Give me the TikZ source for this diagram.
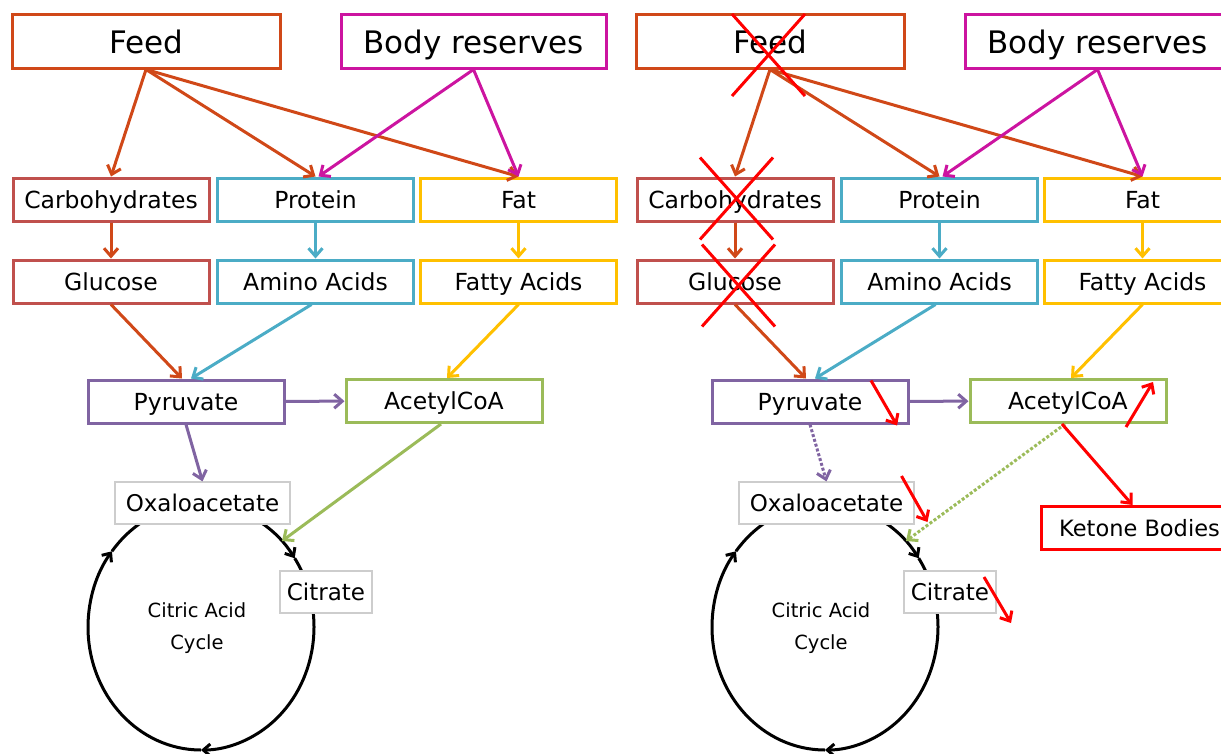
\documentclass[tikz,border=0pt]{standalone}
\usepackage{fontspec}
\setmainfont{DejaVu Sans}
\usetikzlibrary{arrows.meta}
\definecolor{feedc}{RGB}{208,72,24}
\definecolor{bodyc}{RGB}{204,20,160}
\definecolor{carbc}{RGB}{192,80,77}
\definecolor{protc}{RGB}{75,172,198}
\definecolor{fatc}{RGB}{255,192,0}
\definecolor{pyrc}{RGB}{128,100,162}
\definecolor{acetc}{RGB}{155,187,89}
\definecolor{boxgray}{RGB}{205,205,205}
\tikzset{>={Straight Barb[length=8pt,width=14pt]}}

\begin{document}
\begin{tikzpicture}[x=1pt, y=1pt,
  box/.style={draw, line width=3pt, fill=white, inner sep=0pt, minimum width=196pt, minimum height=43pt, text height=21pt, text depth=4pt, font=\fontsize{23.5}{27}\selectfont},
  topbox/.style={box, minimum width=268pt, minimum height=54pt, text height=29pt, text depth=4pt, font=\fontsize{31}{35}\selectfont},
  thinbox/.style={draw=boxgray, line width=1.2pt, fill=white, inner sep=0pt, minimum height=42pt, text height=21pt, text depth=4pt, font=\fontsize{23}{27}\selectfont},
  link/.style={->, line width=3pt},
  cycarrow/.style={-{Straight Barb[length=7pt,width=12pt]}, line width=3pt},
  trend/.style={->, red, line width=3pt},
  crossline/.style={red, line width=3pt}]
\useasboundingbox (0,0) rectangle (1221,-753);
\clip (0,0) rectangle (1221,-753);

\foreach \s/\p/\lk in {0/L/solid, 624/R/dotted}{
  % cycle
  \coordinate (cyc\p) at (\s+201,-627);
  \coordinate (cin\p) at (\s+282,-541);
  \draw[cycarrow] (cyc\p) ++(142:113 and 123) arc[start angle=142, end angle=34, x radius=113, y radius=123];
  \draw[cycarrow] (cyc\p) ++(34:113 and 123) arc[start angle=34, end angle=-90, x radius=113, y radius=123];
  \draw[cycarrow] (cyc\p) ++(270:113 and 123) arc[start angle=270, end angle=142, x radius=113, y radius=123];
  \node[font=\fontsize{19.5}{32}\selectfont, align=center] (ctxt\p) at (\s+197,-628) {Citric Acid\\Cycle};

  \node[topbox, draw=feedc] (feed\p) at (\s+146,-41) {Feed};
  \node[topbox, draw=bodyc, minimum width=265pt] (body\p) at (\s+473.5,-41) {Body reserves};
  \node[box, draw=carbc] (carb\p) at (\s+111,-199.5) {Carbohydrates};
  \node[box, draw=protc] (prot\p) at (\s+315.5,-199.5) {Protein};
  \node[box, draw=fatc] (fat\p) at (\s+518.5,-199.5) {Fat};
  \node[box, draw=carbc] (gluc\p) at (\s+111,-281.5) {Glucose};
  \node[box, draw=protc] (amino\p) at (\s+315.5,-281.5) {Amino Acids};
  \node[box, draw=fatc] (fatty\p) at (\s+518.5,-281.5) {Fatty Acids};
  \node[box, draw=pyrc] (pyr\p) at (\s+186,-401.5) {Pyruvate};
  \node[box, draw=acetc] (acet\p) at (\s+444,-401) {AcetylCoA};
  \node[thinbox, minimum width=175pt] (oxa\p) at (\s+202.5,-503) {Oxaloacetate};
  \node[thinbox, minimum width=92pt] (cit\p) at (\s+326,-592) {Citrate};

  \draw[link, feedc] (feed\p.south) -- (carb\p.north);
  \draw[link, feedc] (feed\p.south) -- (prot\p.north);
  \draw[link, feedc] (feed\p.south) -- (fat\p.north);
  \draw[link, bodyc] (body\p.south) -- ([xshift=3pt]prot\p.north);
  \draw[link, bodyc] (body\p.south) -- (fat\p.north);
  \draw[link, feedc] (carb\p) -- (gluc\p);
  \draw[link, protc] (prot\p) -- (amino\p);
  \draw[link, fatc] (fat\p) -- (fatty\p);
  \draw[link, feedc] (gluc\p.south) -- ([xshift=-4pt]pyr\p.north);
  \draw[link, protc] ([xshift=-4pt]amino\p.south) -- ([xshift=5pt]pyr\p.north);
  \draw[link, fatc] (fatty\p.south) -- ([xshift=3pt]acet\p.north);
  \draw[link, pyrc] (pyr\p) -- (acet\p);
  \draw[link, pyrc, \lk] (pyr\p.south) -- (oxa\p.north);
  \draw[link, acetc, \lk] ([xshift=-3pt]acet\p.south) -- (cin\p);
}

% fasting side
\node[box, draw=red, minimum width=196pt, anchor=west, font=\fontsize{22.5}{26}\selectfont] (keto) at (1040,-528) {Ketone Bodies};
\draw[link, red] ([xshift=-6pt]acetR.south) -- ([xshift=-7pt]keto.north);

\foreach \n/\dx/\dy in {feedR/-38/27, carbR/-35/42, glucR/-33/37}{
  \draw[crossline] (\n.center) ++(\dx,\dy) -- ++(73,-82);
  \draw[crossline] (\n.center) ++(\dx+73,\dy) -- ++(-73,-82);
}

\draw[trend] (pyrR.center) ++(61,21) -- ++(26,-45);
\draw[trend] (acetR.center) ++(58,-26) -- ++(27,45);
\draw[trend] (oxaR.center) ++(75,27) -- ++(26,-46);
\draw[trend] (citR.center) ++(34,15) -- ++(27,-46);
\end{tikzpicture}
\end{document}
